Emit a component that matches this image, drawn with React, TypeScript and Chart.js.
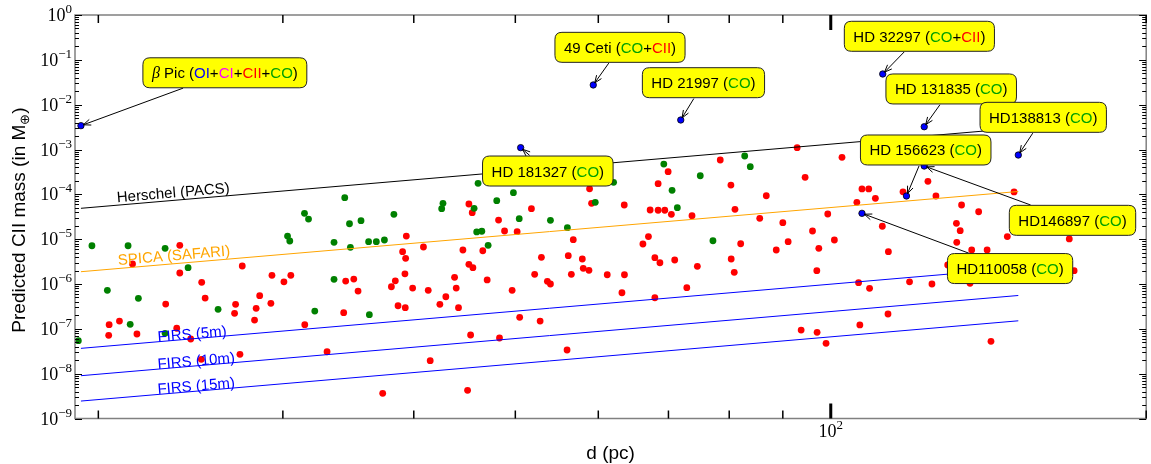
import React, { useEffect, useRef } from "react";
import { Chart, registerables } from "chart.js";

Chart.register(...registerables);

const W = 1151;
const H = 464;

// ---- axis ranges / ticks ----
const D_MIN = 19;
const D_MAX = 200;
const M_MIN = 1e-9;
const M_MAX = 1;
const xMajorTicks = [100];
const xMajorTickExp = ["2"];
const xMinorTicks = [20, 30, 40, 50, 60, 70, 80, 90, 200];
const yMajorExp = [0, -1, -2, -3, -4, -5, -6, -7, -8, -9];

// ---- green sample (distance pc, predicted CII mass in Earth masses) ----
const greenDist = [19.14, 19.72, 20.4, 21.35, 21.45, 21.84, 23.16, 23.16, 24.36, 26.02, 30.31, 30.46, 31.46, 31.74, 32.18, 33.57, 33.57, 34.37, 34.73, 34.8, 35.62, 36.22, 36.28, 36.84, 37.5, 38.29, 42.53, 42.65, 45.67, 45.93, 46.07, 46.45, 47.1, 48.0, 49.79, 50.43, 54.01, 56.06, 59.6, 62.05, 69.29, 70.56, 71.38, 75.07, 77.19, 82.77, 83.79];
const greenMass = [5.43e-8, 7.14e-6, 7.23e-7, 7.14e-6, 1.26e-7, 4.8e-7, 6.25e-6, 7.94e-8, 2.31e-6, 2.72e-7, 1.17e-5, 9.09e-6, 3.77e-5, 2.81e-5, 2.49e-7, 8.51e-6, 1.27e-6, 8.41e-5, 2.21e-5, 6.58e-6, 2.58e-5, 8.77e-6, 2.07e-7, 8.77e-6, 9.57e-6, 3.58e-5, 4.78e-5, 6.31e-5, 4.88e-5, 1.45e-5, 1.76e-4, 1.5e-5, 7.29e-6, 7.21e-5, 1.09e-4, 2.86e-5, 2.63e-5, 1.8e-5, 6.64e-5, 1.85e-4, 4.74e-4, 1.23e-4, 5.03e-5, 2.6e-4, 9.23e-6, 7.16e-4, 4.13e-4];

// ---- red sample ----
const redDist = [20.48, 20.95, 20.46, 21.77, 21.56, 23.19, 23.76, 23.92, 23.92, 24.5, 25.08, 25.1, 25.29, 26.98, 27.04, 27.3, 27.44, 28.19, 28.29, 28.51, 29.22, 29.29, 30.07, 30.53, 31.48, 33.06, 34.29, 34.44, 35.06, 35.39, 37.36, 38.08, 38.41, 38.64, 39.03, 39.23, 39.26, 39.29, 39.35, 39.9, 40.86, 41.29, 41.47, 42.36, 42.92, 43.75, 43.91, 44.13, 44.56, 45.02, 45.15, 45.15, 45.32, 45.48, 45.55, 46.55, 47.0, 48.19, 48.29, 48.83, 49.65, 50.2, 50.48, 51.8, 52.17, 52.8, 52.95, 53.65, 54.01, 56.02, 56.17, 56.55, 56.79, 57.93, 58.05, 58.78, 58.86, 59.12, 61.19, 63.2, 63.52, 63.55, 66.18, 66.99, 67.24, 67.94, 67.94, 68.43, 68.43, 68.7, 69.44, 69.95, 70.45, 70.97, 72.88, 73.72, 74.59, 78.44, 80.3, 80.35, 80.89, 81.02, 82.04, 85.55, 86.79, 88.71, 90.0, 91.06, 92.88, 93.7, 94.52, 96.07, 96.98, 97.04, 97.41, 98.97, 99.34, 100.8, 102.5, 105.9, 106.3, 106.6, 107.1, 108.7, 108.9, 110.3, 112.0, 113.4, 113.5, 117.2, 118.9, 123.8, 124.9, 126.0, 129.3, 131.8, 131.9, 132.9, 133.3, 135.8, 136.3, 138.4, 141.0, 142.2, 147.4, 149.6, 168.9, 170.7];
const redMass = [1.24e-7, 1.49e-7, 7.16e-8, 7.66e-8, 2.79e-6, 3.57e-7, 1.03e-7, 7.29e-6, 1.76e-6, 5.93e-8, 2.09e-8, 1.09e-6, 4.86e-7, 2.22e-7, 3.52e-7, 2.7e-8, 2.52e-6, 1.57e-7, 2.86e-7, 5.48e-7, 3.71e-7, 1.56e-6, 1.12e-6, 1.56e-6, 1.24e-7, 3.08e-8, 2.29e-7, 1.16e-6, 1.29e-6, 6.97e-7, 3.64e-9, 8.69e-7, 1.18e-6, 3.27e-7, 5.25e-6, 1.69e-6, 2.96e-7, 3.74e-6, 1.17e-5, 8.13e-7, 6.68e-6, 7.23e-7, 1.95e-8, 3.52e-7, 5.2e-7, 1.41e-6, 8.13e-7, 2.96e-7, 5.73e-6, 4.25e-9, 6.08e-5, 2.75e-6, 7.28e-8, 3.89e-5, 2.31e-6, 5.52e-6, 1.23e-6, 2.67e-5, 6.24e-8, 1.52e-5, 7.23e-7, 1.47e-5, 1.81e-7, 4.78e-5, 1.64e-6, 1.49e-7, 3.94e-6, 1.15e-6, 1.0e-6, 3.37e-8, 4.28e-6, 1.64e-6, 9.72e-6, 3.61e-6, 2.24e-6, 2.02e-6, 1.33e-4, 6.31e-5, 1.61e-6, 6.38e-7, 5.78e-5, 1.61e-6, 7.8e-6, 1.14e-5, 4.47e-5, 3.86e-6, 4.94e-7, 1.73e-4, 4.41e-5, 2.98e-6, 4.41e-5, 3.2e-4, 3.58e-5, 3.43e-6, 8.26e-7, 3.34e-5, 2.48e-6, 5.83e-4, 1.61e-4, 3.61e-6, 1.82e-6, 4.63e-5, 7.91e-6, 2.92e-5, 9.31e-5, 5.73e-6, 2.33e-5, 8.77e-6, 1.1e-3, 9.4e-8, 2.4e-4, 1.52e-5, 1.98e-6, 8.36e-8, 6.25e-6, 4.75e-8, 3.64e-5, 9.57e-6, 6.7e-4, 6.64e-5, 1.07e-6, 1.22e-7, 1.32e-4, 1.32e-4, 8.01e-7, 8.15e-5, 1.94e-5, 2.14e-7, 5.25e-6, 1.14e-4, 1.12e-6, 1.95e-4, 1.0e-6, 9.18e-5, 2.65e-6, 2.26e-5, 8.51e-6, 1.55e-5, 5.78e-5, 1.04e-6, 5.73e-6, 4.09e-5, 5.73e-6, 5.26e-8, 1.14e-5, 1.13e-4, 1.01e-5, 1.98e-6];

// ---- named detections (blue) ----
const starNames = ["β Pic", "49 Ceti", "HD 21997", "HD 32297", "HD 131835", "HD138813", "HD 156623", "HD 181327", "HD146897", "HD110058"];
const starDist = [19.25, 59.34, 71.92, 112.1, 122.8, 151.0, 118.1, 50.59, 122.8, 107.1];
const starMass = [3.4e-3, 2.75e-2, 4.55e-3, 4.83e-2, 3.22e-3, 7.53e-4, 9.18e-5, 1.1e-3, 4.28e-4, 3.77e-5];
const starSpecies = [["OI", "CI", "CII", "CO"], ["CO", "CII"], ["CO"], ["CO", "CII"], ["CO"], ["CO"], ["CO"], ["CO"], ["CO"], ["CO"]];
const boxDist = [26.41, 62.93, 75.6, 121.5, 130.3, 159.5, 123.2, 53.7, 170.1, 148.3];
const boxMass = [5.14e-2, 0.19, 3.09e-2, 0.335, 2.24e-2, 5.22e-3, 9.75e-4, 3.31e-4, 2.63e-5, 2.21e-6];
const speciesColor: Record<string, string> = { OI: "#0000ff", CI: "#ff00ff", CII: "#ff0000", CO: "#00a000" };

// ---- sensitivity lines ----
const lineDist = [19.25, 151];
const herschelMass = [4.88e-5, 3.0e-3];
const spicaMass = [1.88e-6, 1.157e-4];
const firs5Mass = [3.67e-8, 2.26e-6];
const firs10Mass = [9.0e-9, 5.54e-7];
const firs15Mass = [2.45e-9, 1.51e-7];
const lineMasses = [herschelMass, spicaMass, firs5Mass, firs10Mass, firs15Mass];
const lineNames = ["Herschel (PACS)", "SPICA (SAFARI)", "FIRS (5m)", "FIRS (10m)", "FIRS (15m)"];
const lineColors = ["#000000", "#ffa500", "#0000ff", "#0000ff", "#0000ff"];
const lineLabelDist = [20.85, 20.9, 22.8, 22.8, 22.8];
const lineLabelMass = [6.64e-5, 2.65e-6, 5.15e-8, 1.27e-8, 3.52e-9];

const SANS = '"Liberation Sans", Arial, Helvetica, sans-serif';
const SERIF = '"Liberation Serif", "DejaVu Serif", serif';

type Seg = { t: string; c: string; f: string; dy?: number };

function segsWidth(ctx: CanvasRenderingContext2D, segs: Seg[]) {
  let w = 0;
  for (const s of segs) {
    ctx.font = s.f;
    w += ctx.measureText(s.t).width;
  }
  return w;
}
function drawSegs(ctx: CanvasRenderingContext2D, segs: Seg[], x: number, y: number) {
  let cx = x;
  for (const s of segs) {
    ctx.font = s.f;
    ctx.fillStyle = s.c;
    ctx.fillText(s.t, cx, y + (s.dy || 0));
    cx += ctx.measureText(s.t).width;
  }
}
function roundRect(ctx: CanvasRenderingContext2D, x: number, y: number, w: number, h: number, r: number) {
  ctx.beginPath();
  ctx.moveTo(x + r, y);
  ctx.lineTo(x + w - r, y);
  ctx.quadraticCurveTo(x + w, y, x + w, y + r);
  ctx.lineTo(x + w, y + h - r);
  ctx.quadraticCurveTo(x + w, y + h, x + w - r, y + h);
  ctx.lineTo(x + r, y + h);
  ctx.quadraticCurveTo(x, y + h, x, y + h - r);
  ctx.lineTo(x, y + r);
  ctx.quadraticCurveTo(x, y, x + r, y);
  ctx.closePath();
}
function drawArrow(ctx: CanvasRenderingContext2D, x0: number, y0: number, x1: number, y1: number) {
  const ang = Math.atan2(y1 - y0, x1 - x0);
  ctx.beginPath();
  ctx.moveTo(x0, y0);
  ctx.lineTo(x1, y1);
  ctx.stroke();
  const hl = 8;
  const ha = 0.38;
  ctx.beginPath();
  ctx.moveTo(x1 - hl * Math.cos(ang - ha), y1 - hl * Math.sin(ang - ha));
  ctx.lineTo(x1, y1);
  ctx.lineTo(x1 - hl * Math.cos(ang + ha), y1 - hl * Math.sin(ang + ha));
  ctx.stroke();
}

const decorPlugin = {
  id: "decor",
  afterDraw(chart: any) {
    const ctx: CanvasRenderingContext2D = chart.ctx;
    const xs = chart.scales.x;
    const ys = chart.scales.y;
    const ca = chart.chartArea;
    ctx.save();

    // line labels (rotated along their line)
    ctx.textBaseline = "alphabetic";
    ctx.textAlign = "left";
    lineNames.forEach((name, i) => {
      const m = lineMasses[i];
      const ax = xs.getPixelForValue(lineDist[0]);
      const ay = ys.getPixelForValue(m[0]);
      const bx = xs.getPixelForValue(lineDist[1]);
      const by = ys.getPixelForValue(m[1]);
      const ang = Math.atan2(by - ay, bx - ax);
      const px = xs.getPixelForValue(lineLabelDist[i]);
      const py = ys.getPixelForValue(lineLabelMass[i]);
      ctx.save();
      ctx.translate(px, py);
      ctx.rotate(ang);
      ctx.font = `15px ${SANS}`;
      ctx.fillStyle = lineColors[i];
      ctx.fillText(name, 0, 0);
      ctx.restore();
    });

    // annotation boxes with arrows
    const fSans = `15px ${SANS}`;
    starNames.forEach((name, i) => {
      const segs: Seg[] = [];
      if (name.startsWith("β")) {
        segs.push({ t: "β", c: "#000", f: `italic 16px ${SERIF}` });
        segs.push({ t: name.slice(1) + " (", c: "#000", f: fSans });
      } else {
        segs.push({ t: name + " (", c: "#000", f: fSans });
      }
      starSpecies[i].forEach((sp, k) => {
        if (k > 0) segs.push({ t: "+", c: "#000", f: fSans });
        segs.push({ t: sp, c: speciesColor[sp], f: fSans });
      });
      segs.push({ t: ")", c: "#000", f: fSans });
      const tw = segsWidth(ctx, segs);
      const bw = tw + 18;
      const bh = 30;
      const cx = xs.getPixelForValue(boxDist[i]);
      const cy = ys.getPixelForValue(boxMass[i]);
      const px = xs.getPixelForValue(starDist[i]);
      const py = ys.getPixelForValue(starMass[i]);
      const dx = px - cx;
      const dy = py - cy;
      const len = Math.hypot(dx, dy);
      const ux = dx / len;
      const uy = dy / len;
      const tEdge = Math.min(Math.abs(dx) > 1e-6 ? bw / 2 / Math.abs(dx) : 1e9, Math.abs(dy) > 1e-6 ? bh / 2 / Math.abs(dy) : 1e9);
      const sx = cx + dx * tEdge + ux * 1;
      const sy = cy + dy * tEdge + uy * 1;
      const ex = px - ux * 2.5;
      const ey = py - uy * 2.5;
      ctx.strokeStyle = "#000";
      ctx.lineWidth = 1;
      drawArrow(ctx, sx, sy, ex, ey);
      roundRect(ctx, cx - bw / 2, cy - bh / 2, bw, bh, 7);
      ctx.fillStyle = "#ffff00";
      ctx.fill();
      ctx.strokeStyle = "#222";
      ctx.lineWidth = 1;
      ctx.stroke();
      ctx.textBaseline = "alphabetic";
      ctx.textAlign = "left";
      drawSegs(ctx, segs, cx - tw / 2, cy + 5.5);
    });

    // frame
    ctx.strokeStyle = "#808080";
    ctx.lineWidth = 1.5;
    ctx.strokeRect(ca.left, ca.top, ca.right - ca.left, ca.bottom - ca.top);

    // y ticks (both sides, inward)
    ctx.strokeStyle = "#000";
    ctx.lineWidth = 1;
    yMajorExp.forEach((e) => {
      const v = Math.pow(10, e);
      const py = Math.round(ys.getPixelForValue(v)) + 0.5;
      ctx.beginPath();
      ctx.moveTo(ca.left, py);
      ctx.lineTo(ca.left + 7, py);
      ctx.moveTo(ca.right, py);
      ctx.lineTo(ca.right - 7, py);
      ctx.stroke();
      if (e > -9) {
        for (let k = 2; k <= 9; k++) {
          const mv = v * k / 10;
          const my = Math.round(ys.getPixelForValue(mv)) + 0.5;
          ctx.beginPath();
          ctx.moveTo(ca.left, my);
          ctx.lineTo(ca.left + 4, my);
          ctx.moveTo(ca.right, my);
          ctx.lineTo(ca.right - 4, my);
          ctx.stroke();
        }
      }
    });
    // x ticks (top & bottom, inward)
    ctx.lineWidth = 1.5;
    xMinorTicks.forEach((v) => {
      const px = xs.getPixelForValue(v);
      ctx.beginPath();
      ctx.moveTo(px, ca.bottom);
      ctx.lineTo(px, ca.bottom - 8);
      ctx.moveTo(px, ca.top);
      ctx.lineTo(px, ca.top + 8);
      ctx.stroke();
    });
    ctx.lineWidth = 3;
    xMajorTicks.forEach((v) => {
      const px = xs.getPixelForValue(v);
      ctx.beginPath();
      ctx.moveTo(px, ca.bottom);
      ctx.lineTo(px, ca.bottom - 15);
      ctx.moveTo(px, ca.top);
      ctx.lineTo(px, ca.top + 15);
      ctx.stroke();
    });

    // y tick labels  10^e
    const fBase = `18px ${SERIF}`;
    const fSup = `13px ${SERIF}`;
    ctx.textBaseline = "alphabetic";
    ctx.textAlign = "left";
    yMajorExp.forEach((e) => {
      const py = ys.getPixelForValue(Math.pow(10, e));
      const segs: Seg[] = [
        { t: "10", c: "#000", f: fBase },
        { t: e < 0 ? "\u2212" + String(-e) : String(e), c: "#000", f: fSup, dy: -8 },
      ];
      const w = segsWidth(ctx, segs);
      drawSegs(ctx, segs, ca.left - 3 - w, py + 6);
    });
    // x tick labels
    xMajorTicks.forEach((v, i) => {
      const px = xs.getPixelForValue(v);
      const segs: Seg[] = [
        { t: "10", c: "#000", f: fBase },
        { t: xMajorTickExp[i], c: "#000", f: fSup, dy: -8 },
      ];
      const w = segsWidth(ctx, segs);
      drawSegs(ctx, segs, px - w / 2, ca.bottom + 18);
    });

    // axis titles
    const fTitle = `19px ${SANS}`;
    const fSub = `13px ${SANS}`;
    const xt: Seg[] = [{ t: "d (pc)", c: "#000", f: fTitle }];
    const xw = segsWidth(ctx, xt);
    drawSegs(ctx, xt, (ca.left + ca.right) / 2 - xw / 2, ca.bottom + 40);

    const yt: Seg[] = [
      { t: "Predicted CII mass (in M", c: "#000", f: fTitle },
      { t: "\u2295", c: "#000", f: fSub, dy: 4 },
      { t: ")", c: "#000", f: fTitle },
    ];
    const yw = segsWidth(ctx, yt);
    ctx.save();
    ctx.translate(25, 220);
    ctx.rotate(-Math.PI / 2);
    drawSegs(ctx, yt, -yw / 2, 0);
    ctx.restore();

    ctx.restore();
  },
};

export default function App() {
  const ref = useRef<HTMLCanvasElement>(null);
  useEffect(() => {
    if (!ref.current) return;
    const pts = (ds: number[], ms: number[]) => ds.map((d, i) => ({ x: d, y: ms[i] }));
    const lineSets = lineMasses.map((m, i) => ({
      label: lineNames[i],
      data: pts(lineDist, m),
      showLine: true,
      borderColor: lineColors[i],
      backgroundColor: lineColors[i],
      borderWidth: 1,
      pointRadius: 0,
      fill: false,
      order: 1,
    }));
    const chart = new Chart(ref.current, {
      type: "scatter",
      data: {
        datasets: [
          {
            label: "detections",
            data: pts(starDist, starMass),
            backgroundColor: "#0000ff",
            borderColor: "#000000",
            borderWidth: 0.8,
            pointRadius: 3.2,
            order: 0,
          },
          ...lineSets,
          {
            label: "green",
            data: pts(greenDist, greenMass),
            backgroundColor: "#008000",
            borderWidth: 0,
            pointRadius: 3.4,
            order: 2,
          },
          {
            label: "red",
            data: pts(redDist, redMass),
            backgroundColor: "#ff0000",
            borderWidth: 0,
            pointRadius: 3.4,
            order: 3,
          },
        ],
      } as any,
      options: {
        responsive: false,
        animation: false,
        devicePixelRatio: 1,
        events: [],
        layout: { padding: { left: 75, right: 4, top: 15, bottom: 45.5 } },
        plugins: { legend: { display: false }, tooltip: { enabled: false } },
        scales: {
          x: { type: "logarithmic", min: D_MIN, max: D_MAX, display: false },
          y: { type: "logarithmic", min: M_MIN, max: M_MAX, display: false },
        },
      } as any,
      plugins: [decorPlugin],
    });
    return () => chart.destroy();
  }, []);
  return (
    <div style={{ position: "fixed", left: 0, top: 0, width: W, height: H, background: "#fff" }}>
      <canvas ref={ref} width={W} height={H} style={{ display: "block", width: W, height: H }} />
    </div>
  );
}
